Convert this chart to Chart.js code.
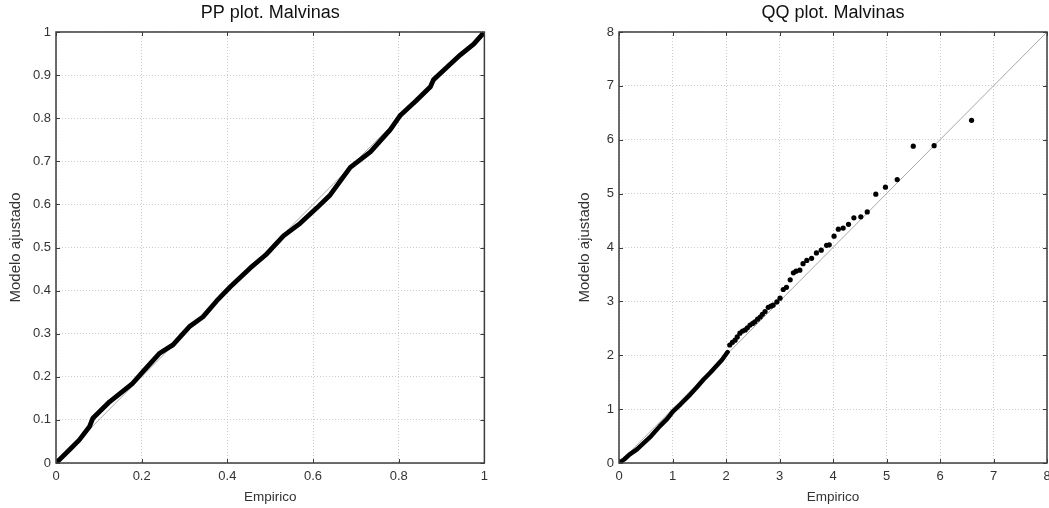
<!DOCTYPE html>
<html>
<head>
<meta charset="utf-8">
<script src="https://cdn.jsdelivr.net/npm/chart.js@4.4.1/dist/chart.umd.min.js"></script>
<style>
  html, body { margin: 0; padding: 0; background: #fff; width: 1049px; height: 508px; overflow: hidden; }
  .box { position: absolute; top: 0; height: 508px; }
  #ppBox { left: 0; width: 494px; }
  #qqBox { left: 563px; width: 500px; }
</style>
</head>
<body>
<div id="ppBox" class="box"><canvas id="pp"></canvas></div>
<div id="qqBox" class="box"><canvas id="qq"></canvas></div>
<script>
const ppEmpirical = [0, 0.031, 0.054, 0.078, 0.086, 0.125, 0.179, 0.203, 0.241, 0.273, 0.311, 0.343, 0.375, 0.407, 0.453, 0.492, 0.531, 0.570, 0.609, 0.640, 0.687, 0.734, 0.780, 0.804, 0.840, 0.874, 0.881, 0.944, 0.975, 1.0];
const ppModel     = [0, 0.030, 0.053, 0.084, 0.104, 0.142, 0.185, 0.212, 0.254, 0.274, 0.316, 0.339, 0.376, 0.409, 0.452, 0.485, 0.527, 0.556, 0.592, 0.622, 0.686, 0.722, 0.773, 0.807, 0.840, 0.873, 0.889, 0.947, 0.972, 1.0];
const ppDiagonal  = [0, 1];
const ppXTicks = [0, 0.2, 0.4, 0.6, 0.8, 1];
const ppYTicks = [0, 0.1, 0.2, 0.3, 0.4, 0.5, 0.6, 0.7, 0.8, 0.9, 1];

// QQ plot: dense lower part and separate upper quantiles
const qqDenseEmpirical = [0, 0.1, 0.2, 0.33, 0.45, 0.6, 0.76, 0.9, 1.01, 1.15, 1.33, 1.45, 1.58, 1.7, 1.82, 1.93, 2.03];
const qqDenseModel     = [0, 0.07, 0.16, 0.25, 0.36, 0.5, 0.68, 0.82, 0.96, 1.09, 1.27, 1.40, 1.55, 1.67, 1.80, 1.92, 2.06];
const qqTailEmpirical = [2.07, 2.12, 2.17, 2.21, 2.26, 2.31, 2.36, 2.40, 2.45, 2.50, 2.54, 2.59, 2.64, 2.68, 2.73, 2.79, 2.84, 2.88, 2.95, 3.01, 3.07, 3.13, 3.20, 3.26, 3.31, 3.38, 3.44, 3.51, 3.60, 3.69, 3.78, 3.88, 3.93, 4.02, 4.10, 4.19, 4.29, 4.39, 4.52, 4.64, 4.80, 4.98, 5.20, 5.50, 5.89, 6.59];
const qqTailModel     = [2.19, 2.24, 2.28, 2.34, 2.41, 2.45, 2.47, 2.51, 2.56, 2.59, 2.62, 2.67, 2.71, 2.76, 2.81, 2.89, 2.91, 2.93, 2.99, 3.06, 3.22, 3.26, 3.40, 3.53, 3.56, 3.58, 3.70, 3.76, 3.80, 3.90, 3.95, 4.04, 4.05, 4.21, 4.34, 4.36, 4.43, 4.55, 4.57, 4.66, 4.99, 5.12, 5.26, 5.88, 5.89, 6.36];
const qqDiagonal = [0, 8];
const qqTicks = [0, 1, 2, 3, 4, 5, 6, 7, 8];

const FONT = "'Liberation Sans', Arial, sans-serif";
const toPoints = (xs, ys) => xs.map((x, i) => ({x: x, y: ys[i]}));

// Frame around the plot area plus inward tick marks on all four sides
const frameTicks = {
    id: 'frameTicks',
    afterDatasetsDraw(chart) {
        const {ctx, chartArea: a, scales: {x, y}} = chart;
        ctx.save();
        ctx.strokeStyle = '#3c3c3c';
        ctx.lineWidth = 1;
        ctx.beginPath();
        x.ticks.forEach(t => {
            const px = Math.round(x.getPixelForValue(t.value)) + 0.5;
            ctx.moveTo(px, a.bottom); ctx.lineTo(px, a.bottom - 4);
            ctx.moveTo(px, a.top); ctx.lineTo(px, a.top + 4);
        });
        y.ticks.forEach(t => {
            const py = Math.round(y.getPixelForValue(t.value)) + 0.5;
            ctx.moveTo(a.left, py); ctx.lineTo(a.left + 4, py);
            ctx.moveTo(a.right, py); ctx.lineTo(a.right - 4, py);
        });
        ctx.stroke();
        ctx.lineWidth = 1.5;
        ctx.strokeRect(a.left, a.top, a.right - a.left, a.bottom - a.top);
        ctx.restore();
    }
};

function makeChart(id, cfg) {
    const tickFont = { family: FONT, size: 13 };
    const axis = (ticksArr, extra) => Object.assign({
        type: 'linear',
        min: 0,
        max: cfg.max,
        afterBuildTicks: s => { s.ticks = ticksArr.map(v => ({value: v})); },
        grid: { color: '#cccccc', lineWidth: 1, drawTicks: false, tickLength: 0 },
        // in v4 the grid line dash lives under border
        border: { display: false, dash: [1, 2] }
    }, extra);

    return new Chart(document.getElementById(id), {
        type: 'scatter',
        data: { datasets: cfg.datasets },
        options: {
            responsive: true,
            maintainAspectRatio: false,
            animation: false,
            layout: { padding: cfg.padding },
            plugins: {
                legend: { display: false },
                tooltip: { enabled: false },
                title: {
                    display: true,
                    text: cfg.title,
                    fullSize: false,
                    color: '#111',
                    font: { family: FONT, size: 18, weight: 'normal' },
                    padding: { top: 2.2, bottom: 8.2 }
                }
            },
            scales: {
                x: axis(cfg.xTicks, {
                    afterFit: s => { s.height = 45; },
                    ticks: { color: '#333', padding: 6, maxRotation: 0, font: tickFont, callback: v => String(v) },
                    title: { display: true, text: 'Empirico', color: '#333', font: { family: FONT, size: 13.5 }, padding: { top: 0, bottom: 2.9 } }
                }),
                y: axis(cfg.yTicks, {
                    afterFit: s => { s.width = 56; },
                    ticks: { color: '#333', padding: 5, font: tickFont, callback: v => String(v) },
                    title: { display: true, text: 'Modelo ajustado', color: '#333', font: { family: FONT, size: 15 }, padding: { top: cfg.yTitlePad, bottom: 0 } }
                })
            }
        },
        plugins: [frameTicks]
    });
}

const refStyle = { showLine: true, borderColor: '#a8a8a8', borderWidth: 1, pointRadius: 0, order: 2 };

makeChart('pp', {
    title: 'PP plot. Malvinas',
    max: 1,
    xTicks: ppXTicks,
    yTicks: ppYTicks,
    yTitlePad: 7,
    padding: { left: 0, right: 6, top: 0, bottom: 0 },
    datasets: [
        Object.assign({ data: toPoints(ppDiagonal, ppDiagonal) }, refStyle),
        { data: toPoints(ppEmpirical, ppModel), showLine: true, borderColor: '#000', borderWidth: 4.8,
          borderJoinStyle: 'round', borderCapStyle: 'round', pointRadius: 0, order: 1 }
    ]
});

makeChart('qq', {
    title: 'QQ plot. Malvinas',
    max: 8,
    xTicks: qqTicks,
    yTicks: qqTicks,
    yTitlePad: 13,
    padding: { left: 0, right: 16, top: 0, bottom: 0 },
    datasets: [
        Object.assign({ data: toPoints(qqDiagonal, qqDiagonal) }, refStyle),
        { data: toPoints(qqDenseEmpirical, qqDenseModel), showLine: true, borderColor: '#000', borderWidth: 4.5,
          borderJoinStyle: 'round', borderCapStyle: 'round', pointRadius: 0, order: 1 },
        { data: toPoints(qqTailEmpirical, qqTailModel), showLine: false, backgroundColor: '#000', borderColor: '#000',
          borderWidth: 0, pointRadius: 2.6, order: 1 }
    ]
});
</script>
</body>
</html>
